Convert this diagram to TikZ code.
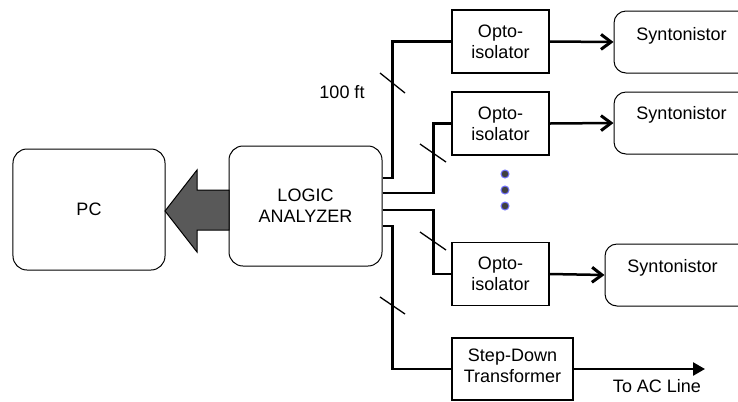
\documentclass[tikz,border=0pt]{standalone}
\usepackage{fontspec}
\setmainfont{Liberation Sans}
\usetikzlibrary{arrows.meta}
\begin{document}
\begin{tikzpicture}[x=1bp,y=-1bp,
  every node/.style={font=\fontsize{18bp}{21bp}\selectfont, align=center},
  rbox/.style={draw, line width=1bp, rounded corners=14bp, inner sep=0pt},
  sbox/.style={draw, rounded corners=12bp, line width=1bp, inner sep=0pt, minimum width=156bp, minimum height=62bp},
  obox/.style={draw, line width=1.3bp, inner sep=0pt, minimum width=97bp, minimum height=63bp},
  conn/.style={line width=2.5bp},
  arr/.style={conn, -{Straight Barb[length=10bp,width=15bp,line width=3bp]}},
  slash/.style={line width=1.3bp},
  dot/.style={fill=black!75, draw=blue!55!white, line width=1bp},
  bigarrow/.style={draw=black, line width=1bp, fill=black!65}
]
\useasboundingbox (0,0) rectangle (738,401);
\clip (0,0) rectangle (738,401);
\fill[white] (0,0) rectangle (738,401);

% main boxes
\node[rbox, minimum width=152bp, minimum height=121bp] (PC) at (89,209.5) {PC};
\node[rbox, minimum width=153bp, minimum height=120bp] (LA) at (305.5,206) {LOGIC\\ANALYZER};

% big arrow
\draw[bigarrow] (229,190) -- (197,190) -- (197,170) -- (165,211) -- (197,252) -- (197,230) -- (229,230) -- cycle;

% opto-isolators
\node[obox] (o1) at (500.5,41.5) {Opto-\\isolator};
\node[obox] (o2) at (500.5,123.5) {Opto-\\isolator};
\node[obox] (o3) at (500.5,274) {Opto-\\isolator};
\node[draw, line width=1.3bp, inner sep=0pt, minimum width=121bp, minimum height=62bp] (sd) at (512.5,369) {};
\node (sdt) at (512.5,366) {Step-Down\\Transformer};

% syntonistors
\node[sbox] (s1) at (692,42) {};
\node[sbox] (s2) at (692,123) {};
\node[sbox, minimum width=165bp] (s3) at (687.5,275) {};
\node (s1t) at ([xshift=68bp,yshift=-25bp]s1.north west) {Syntonistor};
\node (s2t) at ([xshift=68bp,yshift=-23bp]s2.north west) {Syntonistor};
\node (s3t) at ([xshift=68bp,yshift=-24bp]s3.north west) {Syntonistor};

% connectors from logic analyzer
\draw[conn] ([yshift=28bp]LA.east) -- ++(10,0) |- (o1.west);
\draw[conn] ([yshift=13bp]LA.east) -- ++(51,0) |- (o2.west);
\draw[conn] ([yshift=-4bp]LA.east) -- ++(51,0) |- (o3.west);
\draw[conn] ([yshift=-20bp]LA.east) -- ++(10,0) |- (sd.west);

% arrows to syntonistors
\draw[arr] (o1.east) -- (s1.west);
\draw[arr] (o2.east) -- (s2.west);
\draw[arr] (o3.east) -- (s3.west);
\coordinate (ac) at (705,369);
\draw[conn, -{Triangle[length=12bp,width=13bp]}] (sd.east) -- (ac);
\node (act) at (657,386) {To AC Line};

% slash marks
\draw[slash] (380,73) -- (405,93);
\draw[slash] (420,144) -- (446,162);
\draw[slash] (420,232) -- (446,250);
\draw[slash] (380,297) -- (405,314);
\node (ft) at (342,92) {100 ft};

% dots
\draw[dot] (505,174) circle (4);
\draw[dot] (505,190) circle (4);
\draw[dot] (505,206) circle (4);
\end{tikzpicture}
\end{document}
